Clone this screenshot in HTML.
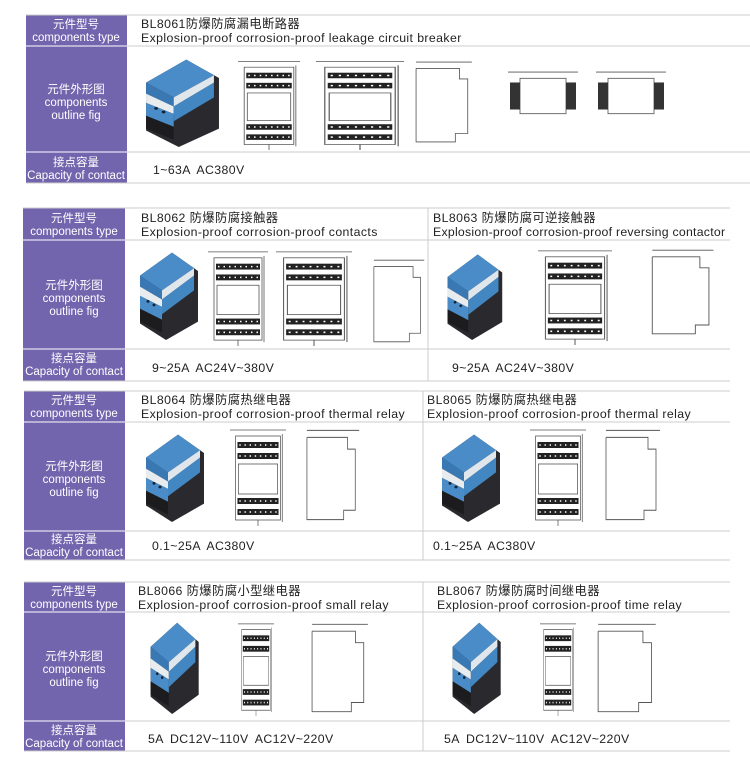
<!DOCTYPE html>
<html><head><meta charset="utf-8"><style>
html,body{margin:0;padding:0;background:#fff}
svg{display:block}
text{font-family:"Liberation Sans","Noto Sans CJK SC",sans-serif}
</style></head><body>
<svg width="750" height="758" viewBox="0 0 750 758" xmlns="http://www.w3.org/2000/svg">
<defs>
<symbol id="photo" viewBox="0 0 70 100" preserveAspectRatio="none">
  <polygon points="8,30 40,5 66,25 66,80 34,100 8,82" fill="#2a2a2e"/>
  <polygon points="8,30 40,5 62,22 30,46" fill="#4a8cc8"/>
  <polygon points="8,30 30,46 30,56 8,42" fill="#3a78b4"/>
  <polygon points="8,42 30,56 30,64 8,52" fill="#e8ecef"/>
  <polygon points="8,52 30,64 30,78 8,66" fill="#4a8cc8"/>
  <polygon points="30,46 62,22 62,30 30,56" fill="#dfe6ec"/>
  <polygon points="30,56 62,30 62,46 30,72" fill="#4286c2"/>
  <circle cx="16" cy="58" r="1.5" fill="#123"/><circle cx="22" cy="62" r="1.5" fill="#123"/>
  <polygon points="8,66 30,78 30,92 8,80" fill="#1c1c1f"/>
</symbol>
<symbol id="front" viewBox="0 0 60 100" preserveAspectRatio="none">
  <g fill="none" stroke="#555" stroke-width="0.8">
    <rect x="6" y="10" width="48" height="84"/>
    <rect x="9" y="38" width="42" height="30"/>
    <line x1="0" y1="4" x2="60" y2="4"/><line x1="56" y1="8" x2="56" y2="96"/>
    <line x1="30" y1="94" x2="30" y2="100"/>
  </g>
  <g fill="#222"><rect x="8" y="16" width="44" height="6"/><rect x="8" y="27" width="44" height="6"/>
  <rect x="8" y="72" width="44" height="6"/><rect x="8" y="83" width="44" height="6"/></g>
  <g stroke="#fff" stroke-width="1.6" stroke-dasharray="1.5 4"><line x1="10" y1="19" x2="52" y2="19"/><line x1="10" y1="30" x2="52" y2="30"/><line x1="10" y1="75" x2="52" y2="75"/><line x1="10" y1="86" x2="52" y2="86"/></g>
</symbol>
<symbol id="side" viewBox="0 0 60 80" preserveAspectRatio="none">
  <g fill="none" stroke="#555" stroke-width="0.8">
    <polyline points="2,8 2,78 40,78 40,70 52,70 52,18 44,18 44,8 2,8"/>
    <line x1="2" y1="2" x2="56" y2="2"/>
  </g>
</symbol>
<symbol id="top" viewBox="0 0 70 50" preserveAspectRatio="none">
  <g fill="none" stroke="#555" stroke-width="0.8"><rect x="12" y="8" width="46" height="34"/><line x1="0" y1="2" x2="70" y2="2"/></g>
  <g fill="#333"><rect x="2" y="12" width="10" height="26"/><rect x="58" y="12" width="10" height="26"/></g>
</symbol>
</defs>

<g font-size="12.4" fill="#222" letter-spacing="0.3">
</g>

<!-- TABLE 1 -->
<g>
<rect x="26" y="15" width="101" height="168" fill="#7264ad"/>
<line x1="26" y1="15" x2="750" y2="15" stroke="#ccc"/>
<line x1="127" y1="46" x2="750" y2="46" stroke="#ccc"/>
<line x1="127" y1="152" x2="750" y2="152" stroke="#ccc"/>
<line x1="26" y1="183" x2="750" y2="183" stroke="#ccc"/>
<line x1="26" y1="46" x2="127" y2="46" stroke="#fff"/><line x1="26" y1="152" x2="127" y2="152" stroke="#fff"/>
<g fill="#fff" font-size="11.5" text-anchor="middle">
<text x="76" y="28">元件型号</text><text x="76" y="41">components type</text>
<text x="76" y="93">元件外形图</text><text x="76" y="106">components</text><text x="76" y="119">outline fig</text>
<text x="76" y="166">接点容量</text><text x="76" y="179">Capacity of contact</text>
</g>
<g fill="#222" font-size="12.3" letter-spacing="0.4"><text x="141" y="28">BL8061防爆防腐漏电断路器</text><text x="141" y="42">Explosion-proof corrosion-proof leakage circuit breaker</text>
<text x="153" y="174" word-spacing="3">1~63A AC380V</text></g>
<use href="#photo" x="136" y="55" width="88" height="92"/>
<use href="#front" x="238" y="58" width="62" height="92"/>
<use href="#front" x="316" y="58" width="88" height="92"/>
<use href="#side" x="414" y="60" width="62" height="84"/>
<use href="#top" x="508" y="70" width="70" height="52"/>
<use href="#top" x="596" y="70" width="70" height="52"/>
</g>

<!-- TABLE 2 -->
<g>
<rect x="23" y="208" width="102" height="173" fill="#7264ad"/>
<line x1="23" y1="208" x2="730" y2="208" stroke="#ccc"/>
<line x1="125" y1="240" x2="730" y2="240" stroke="#ccc"/>
<line x1="125" y1="349" x2="730" y2="349" stroke="#ccc"/>
<line x1="23" y1="381" x2="730" y2="381" stroke="#ccc"/>
<line x1="428" y1="208" x2="428" y2="381" stroke="#ccc"/>
<line x1="23" y1="240" x2="125" y2="240" stroke="#fff"/><line x1="23" y1="349" x2="125" y2="349" stroke="#fff"/>
<g fill="#fff" font-size="11.5" text-anchor="middle">
<text x="74" y="222">元件型号</text><text x="74" y="235">components type</text>
<text x="74" y="289">元件外形图</text><text x="74" y="302">components</text><text x="74" y="315">outline fig</text>
<text x="74" y="362">接点容量</text><text x="74" y="375">Capacity of contact</text>
</g>
<g fill="#222" font-size="12.3" letter-spacing="0.4"><text x="141" y="222">BL8062 防爆防腐接触器</text><text x="141" y="236">Explosion-proof corrosion-proof contacts</text>
<text x="152" y="372" word-spacing="3">9~25A AC24V~380V</text>
<text x="433" y="222">BL8063 防爆防腐可逆接触器</text><text x="433" y="236" letter-spacing="0.25">Explosion-proof corrosion-proof reversing contactor</text>
<text x="452" y="372" word-spacing="3">9~25A AC24V~380V</text></g>
<use href="#photo" x="132" y="248" width="70" height="92"/>
<use href="#front" x="208" y="248" width="60" height="98"/>
<use href="#front" x="276" y="248" width="76" height="98"/>
<use href="#side" x="372" y="258" width="56" height="86"/>
<use href="#photo" x="440" y="250" width="66" height="90"/>
<use href="#front" x="538" y="247" width="74" height="98"/>
<use href="#side" x="650" y="248" width="68" height="88"/>
</g>

<!-- TABLE 3 -->
<g>
<rect x="24" y="391" width="101" height="169" fill="#7264ad"/>
<line x1="24" y1="391" x2="730" y2="391" stroke="#ccc"/>
<line x1="125" y1="422" x2="730" y2="422" stroke="#ccc"/>
<line x1="125" y1="531" x2="730" y2="531" stroke="#ccc"/>
<line x1="24" y1="560" x2="730" y2="560" stroke="#ccc"/>
<line x1="423" y1="391" x2="423" y2="560" stroke="#ccc"/>
<line x1="24" y1="422" x2="125" y2="422" stroke="#fff"/><line x1="24" y1="531" x2="125" y2="531" stroke="#fff"/>
<g fill="#fff" font-size="11.5" text-anchor="middle">
<text x="74" y="404">元件型号</text><text x="74" y="417">components type</text>
<text x="74" y="470">元件外形图</text><text x="74" y="483">components</text><text x="74" y="496">outline fig</text>
<text x="74" y="543">接点容量</text><text x="74" y="556">Capacity of contact</text>
</g>
<g fill="#222" font-size="12.3" letter-spacing="0.4"><text x="141" y="404">BL8064 防爆防腐热继电器</text><text x="141" y="418">Explosion-proof corrosion-proof thermal relay</text>
<text x="152" y="550" word-spacing="3">0.1~25A AC380V</text>
<text x="427" y="404">BL8065 防爆防腐热继电器</text><text x="427" y="418">Explosion-proof corrosion-proof thermal relay</text>
<text x="433" y="550" word-spacing="3">0.1~25A AC380V</text></g>
<use href="#photo" x="138" y="430" width="70" height="92"/>
<use href="#front" x="230" y="426" width="56" height="100"/>
<use href="#side" x="305" y="428" width="58" height="94"/>
<use href="#photo" x="434" y="430" width="70" height="92"/>
<use href="#front" x="530" y="426" width="56" height="100"/>
<use href="#side" x="604" y="428" width="60" height="94"/>
</g>

<!-- TABLE 4 -->
<g>
<rect x="24" y="582" width="101" height="169" fill="#7264ad"/>
<line x1="24" y1="582" x2="730" y2="582" stroke="#ccc"/>
<line x1="125" y1="612" x2="730" y2="612" stroke="#ccc"/>
<line x1="125" y1="721" x2="730" y2="721" stroke="#ccc"/>
<line x1="24" y1="751" x2="730" y2="751" stroke="#ccc"/>
<line x1="423" y1="582" x2="423" y2="751" stroke="#ccc"/>
<line x1="24" y1="612" x2="125" y2="612" stroke="#fff"/><line x1="24" y1="721" x2="125" y2="721" stroke="#fff"/>
<g fill="#fff" font-size="11.5" text-anchor="middle">
<text x="74" y="595">元件型号</text><text x="74" y="608">components type</text>
<text x="74" y="660">元件外形图</text><text x="74" y="673">components</text><text x="74" y="686">outline fig</text>
<text x="74" y="734">接点容量</text><text x="74" y="747">Capacity of contact</text>
</g>
<g fill="#222" font-size="12.3" letter-spacing="0.4"><text x="138" y="595">BL8066 防爆防腐小型继电器</text><text x="138" y="609">Explosion-proof corrosion-proof small relay</text>
<text x="148" y="743" word-spacing="3">5A DC12V~110V AC12V~220V</text>
<text x="437" y="595">BL8067 防爆防腐时间继电器</text><text x="437" y="609">Explosion-proof corrosion-proof time relay</text>
<text x="444" y="743" word-spacing="3">5A DC12V~110V AC12V~220V</text></g>
<use href="#photo" x="144" y="618" width="58" height="96"/>
<use href="#front" x="238" y="620" width="36" height="96"/>
<use href="#side" x="310" y="622" width="62" height="92"/>
<use href="#photo" x="446" y="618" width="58" height="96"/>
<use href="#front" x="540" y="620" width="36" height="96"/>
<use href="#side" x="596" y="622" width="64" height="92"/>
</g>
</svg>
</body></html>
